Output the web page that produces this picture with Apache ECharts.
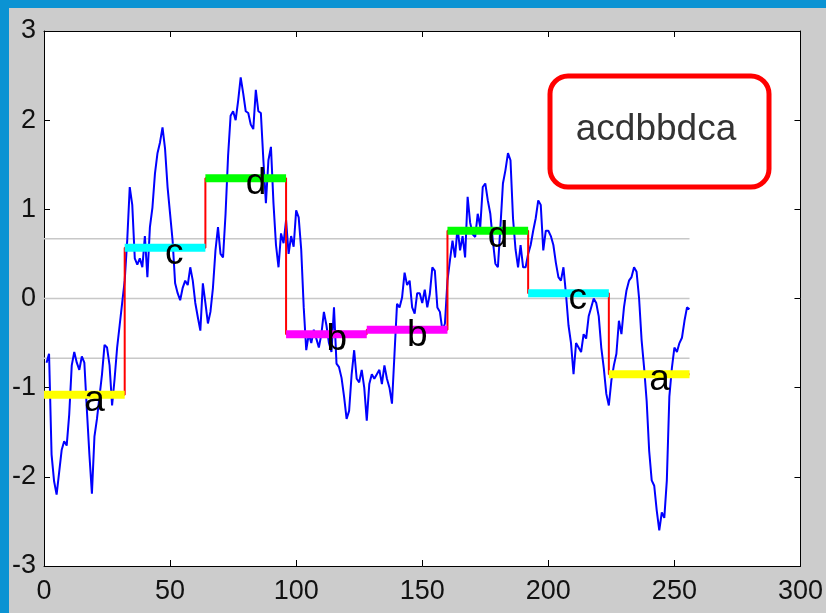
<!DOCTYPE html>
<html><head><meta charset="utf-8">
<script src="https://cdn.jsdelivr.net/npm/echarts@6/dist/echarts.min.js"></script>
<style>
html,body{margin:0;padding:0;width:826px;height:613px;overflow:hidden;background:#0b93d3;}
#chart{position:absolute;left:9px;top:8px;width:817px;height:605px;background:#cccccc;}
</style></head><body><div id="chart"></div>
<script>
const xTickValues = [0, 50, 100, 150, 200, 250, 300];
const yTickValues = [-3, -2, -1, 0, 1, 2, 3];
const timeSeries = [
  -0.72,-0.62,-1.75,-2.05,-2.2,-1.95,-1.7,-1.6,-1.65,-1.3,-0.75,-0.6,-0.72,-0.8,-0.65,-0.72,
  -1.25,-1.75,-2.19,-1.55,-1.35,-1.1,-0.85,-0.52,-0.55,-0.75,-1.2,-0.9,-0.55,-0.3,-0.05,0.2,
  0.65,1.25,1.05,0.45,0.38,0.45,0.35,0.7,0.24,0.8,1.02,1.4,1.63,1.75,1.92,1.68,
  1.25,0.95,0.65,0.17,0.06,-0.02,0.12,0.2,0.15,0.35,0.2,-0.05,-0.21,-0.36,0.17,-0.05,
  -0.28,-0.15,0.12,0.54,0.8,0.5,0.46,0.95,1.6,2.05,2.1,2.0,2.22,2.48,2.3,2.1,
  2.08,1.95,1.9,2.34,2.1,2.08,1.55,1.07,1.55,1.7,1.07,0.6,0.35,0.73,0.62,0.88,
  0.5,0.7,0.58,0.99,0.91,0.55,-0.1,-0.58,-0.4,-0.5,-0.35,-0.45,-0.55,-0.4,-0.15,-0.3,
  -0.5,-0.6,-0.1,-0.73,-0.77,-0.89,-1.1,-1.35,-1.26,-0.85,-0.58,-0.9,-0.94,-0.8,-1.0,-1.37,
  -0.96,-0.85,-0.9,-0.85,-0.8,-0.96,-0.75,-0.9,-1.0,-1.18,-0.62,-0.06,-0.1,0.01,0.29,0.15,
  0.2,-0.1,-0.17,0.06,0.06,-0.05,0.1,-0.1,0.05,0.35,0.31,-0.1,-0.15,-0.36,-0.28,0.2,
  0.43,0.65,0.46,0.8,0.54,0.7,0.46,1.14,0.85,0.72,0.69,0.95,0.8,1.25,1.29,1.1,
  0.95,0.65,0.39,0.35,0.8,1.29,1.44,1.63,1.55,0.9,0.55,0.35,0.6,0.35,0.35,0.5,
  0.6,0.76,0.9,1.1,1.05,0.54,0.76,0.76,0.7,0.6,0.4,0.24,0.2,0.35,0.05,-0.3,
  -0.5,-0.85,-0.5,-0.55,-0.6,-0.4,-0.45,-0.2,-0.1,0.0,-0.05,-0.2,-0.55,-0.78,-1.07,-1.2,
  -0.92,-0.75,-0.62,-0.25,-0.4,-0.1,0.09,0.2,0.24,0.35,0.3,0.0,-0.47,-0.78,-1.15,-1.71,
  -2.04,-2.1,-2.38,-2.6,-2.4,-2.46,-2.04,-1.1,-0.78,-0.55,-0.6,-0.5,-0.44,-0.25,-0.1,-0.12
];
const segmentStarts = [0, 32, 64, 96, 128, 160, 192, 224];
const segmentEnds = [32, 64, 96, 128, 160, 192, 224, 256];
const paaValues = [-1.08, 0.57, 1.35, -0.40, -0.35, 0.76, 0.06, -0.85];
const saxLetters = ['a', 'c', 'd', 'b', 'b', 'd', 'c', 'a'];
const breakpoints = [-0.67, 0, 0.67];
const saxWord = 'acdbbdca';
const letterColors = { a: '#ffff00', b: '#ff00ff', c: '#00ffff', d: '#00ff00' };

const chart = echarts.init(document.getElementById('chart'), null, { renderer: 'canvas' });

const series = [];
breakpoints.forEach(function (b) {
  series.push({
    type: 'line', silent: true, showSymbol: false, z: 1,
    data: [[segmentStarts[0], b], [segmentEnds[segmentEnds.length - 1], b]],
    lineStyle: { color: '#c8c8c8', width: 1.5 }
  });
});
series.push({
  type: 'line', showSymbol: false, z: 2,
  data: timeSeries.map(function (v, i) { return [i + 1, v]; }),
  lineStyle: { color: '#0000ff', width: 2 }
});
const stairs = [];
paaValues.forEach(function (v, i) { stairs.push([segmentStarts[i], v]); stairs.push([segmentEnds[i], v]); });
series.push({
  type: 'line', showSymbol: false, z: 3, data: stairs,
  lineStyle: { color: '#ff0000', width: 2 }
});
paaValues.forEach(function (v, i) {
  series.push({
    type: 'line', showSymbol: false, z: 4,
    data: [[segmentStarts[i], v], [segmentEnds[i], v]],
    lineStyle: { color: letterColors[saxLetters[i]], width: 8, cap: 'butt' }
  });
});
series.push({
  type: 'custom', z: 5,
  data: saxLetters.map(function (l, i) { return [(segmentStarts[i] + segmentEnds[i]) / 2, paaValues[i], l]; }),
  renderItem: function (params, api) {
    const p = api.coord([api.value(0), api.value(1)]);
    return {
      type: 'text', x: p[0], y: p[1] + 6,
      style: { text: saxLetters[params.dataIndex], fill: '#000', fontSize: 37, fontFamily: 'Liberation Sans, Arial, sans-serif', align: 'left', verticalAlign: 'middle' }
    };
  }
});

const axisCommon = {
  type: 'value',
  axisLine: { show: true, onZero: false, lineStyle: { color: '#000', width: 1 } },
  axisTick: { show: true, inside: true, length: 6, lineStyle: { color: '#000', width: 1 } },
  splitLine: { show: false }
};
const labelStyle = { fontSize: 27, color: '#111', fontFamily: 'Liberation Sans, Arial, sans-serif' };

chart.setOption({
  animation: false,
  backgroundColor: '#cccccc',
  grid: { left: 32, right: 23, top: 23, bottom: 47, show: true, backgroundColor: '#ffffff', borderWidth: 0 },
  xAxis: [
    Object.assign({}, axisCommon, { position: 'bottom', min: xTickValues[0], max: xTickValues[xTickValues.length - 1], interval: xTickValues[1] - xTickValues[0], axisLabel: Object.assign({ margin: 12 }, labelStyle) }),
    Object.assign({}, axisCommon, { position: 'top', min: xTickValues[0], max: xTickValues[xTickValues.length - 1], interval: xTickValues[1] - xTickValues[0], axisLabel: { show: false } })
  ],
  yAxis: [
    Object.assign({}, axisCommon, { position: 'left', min: yTickValues[0], max: yTickValues[yTickValues.length - 1], interval: yTickValues[1] - yTickValues[0], axisLabel: Object.assign({ margin: 8 }, labelStyle) }),
    Object.assign({}, axisCommon, { position: 'right', min: yTickValues[0], max: yTickValues[yTickValues.length - 1], interval: yTickValues[1] - yTickValues[0], axisLabel: { show: false } })
  ],
  series: series,
  graphic: [
    { type: 'rect', z: 100, shape: { x: 541, y: 68, width: 219, height: 111, r: 18 }, style: { fill: '#ffffff', stroke: '#ff0000', lineWidth: 5 } },
    { type: 'text', z: 101, x: 647, y: 122, style: { text: saxWord, fill: '#333333', fontSize: 37, fontFamily: 'Liberation Sans, Arial, sans-serif', align: 'center', verticalAlign: 'middle' } }
  ]
});
</script></body></html>
